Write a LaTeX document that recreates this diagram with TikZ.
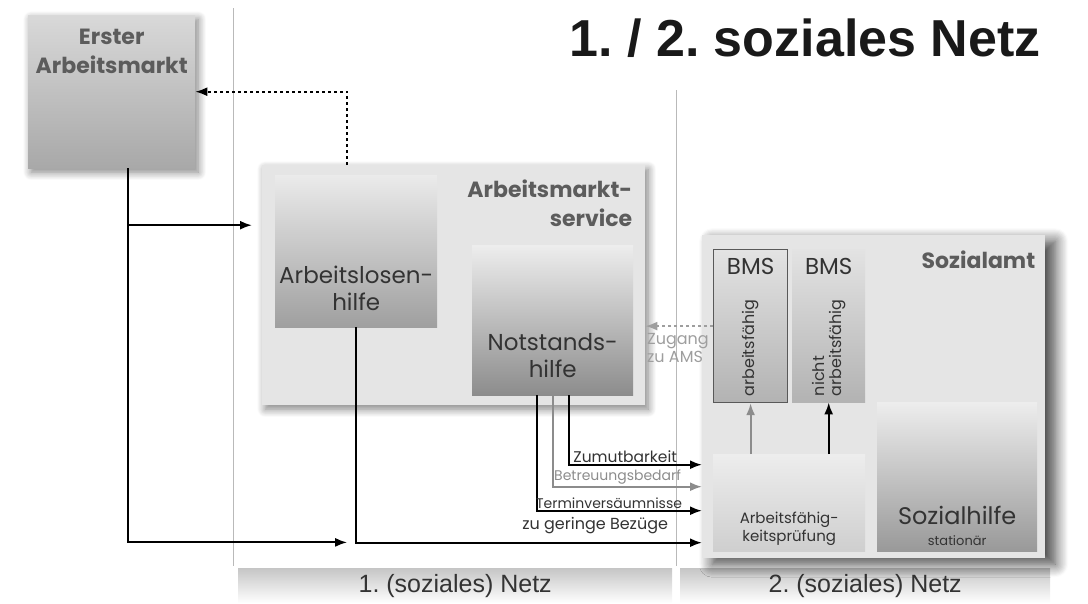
\documentclass[tikz,border=0pt]{standalone}
\usepackage{fontspec}
\setmainfont{Poppins}
\newfontfamily\arialfont{Liberation Sans}
\usepackage{tikz}
\usetikzlibrary{positioning,shadows.blur,arrows.meta}
\frenchspacing
\newcommand{\fsize}[2]{\fontsize{#1}{#2}\selectfont}
\definecolor{panelgray}{gray}{0.90}
\definecolor{inkgray}{gray}{0.36}
\definecolor{linegray}{gray}{0.55}
\definecolor{hintgray}{gray}{0.62}

\begin{document}
\begin{tikzpicture}[x=1pt, y=-1pt,
>={Latex[length=12pt,width=9pt]},
panel/.style={rectangle, inner sep=0pt, anchor=north west, fill=panelgray},
shadowed/.style={blur shadow={shadow xshift=3pt, shadow yshift=-4pt, shadow blur radius=8pt, shadow blur steps=10, shadow opacity=50}},
box/.style={rectangle, inner sep=0pt, anchor=north west, top color=gray!18, bottom color=gray!70},
head/.style={font=\bfseries\fsize{22}{29}, text=inkgray, align=center, inner sep=0pt},
body/.style={font=\fsize{23}{27}, text=black!80, align=center, inner sep=0pt},
small/.style={font=\fsize{16}{17}, text=black!80, align=right, inner sep=1pt},
link/.style={->, line width=2pt},
hint/.style={->, line width=1.6pt, dashed},
bar/.style={rectangle, inner sep=0pt, anchor=north west, top color=gray!45, bottom color=white, font=\arialfont\fsize{25}{28}, text=black!80},
divider/.style={draw=gray!55, line width=0.8pt}
]
\useasboundingbox (0,0) rectangle (1088,603);

%Dividers
\draw[divider] (233,8) -- (233,566);
\draw[divider] (676,90) -- (676,566);

%Bars
\node[bar, minimum width=434pt, minimum height=35pt] (net1) at (238,568) {1. (soziales) Netz};
\node[bar, minimum width=370pt, minimum height=35pt] (net2) at (680,568) {2. (soziales) Netz};

%Title
\node[font=\arialfont\bfseries\fsize{52}{56}, text=black!90] (title) at (805,38) {1. / 2. soziales Netz};

%Erster Arbeitsmarkt
\node[box, shadowed, minimum width=167pt, minimum height=153pt, top color=gray!30, bottom color=gray!68] (erster) at (28,15) {};
\node[head, below=14pt of erster.north] (erstertxt) {Erster\\Arbeitsmarkt};

%Arbeitsmarktservice
\node[panel, shadowed, minimum width=383pt, minimum height=240pt] (ams) at (262,165) {};
\node[head, align=right, below left=15pt and 13pt of ams.north east] (amstxt) {Arbeitsmarkt-\\service};
\node[box, minimum width=162pt, minimum height=152pt, top color=gray!16, bottom color=gray!75] (alh) at (275,175) {};
\node[body, above=16pt of alh.south] (alhtxt) {Arbeitslosen-\\hilfe};
\node[box, minimum width=161pt, minimum height=150pt, top color=gray!14, bottom color=gray!90] (nsh) at (472,245) {};
\node[body, above=17pt of nsh.south] (nshtxt) {Notstands-\\hilfe};

%Sozialamt
\node[panel, blur shadow={shadow xshift=10pt, shadow yshift=-6pt, shadow blur radius=13pt, shadow blur steps=12, shadow opacity=75}, minimum width=343pt, minimum height=323pt] (sozamt) at (702,235) {};
\node[head, below left=16pt and 10pt of sozamt.north east, anchor=north east] (sozamttxt) {Sozialamt};
\node[box, draw=gray!70!black, line width=1.2pt, minimum width=74pt, minimum height=153pt, top color=gray!22, bottom color=gray!60] (bms1) at (713,249) {};
\node[box, minimum width=73pt, minimum height=153pt, top color=gray!22, bottom color=gray!60] (bms2) at (792,249) {};
\node[body, below=9pt of bms1.north] (bms1txt) {BMS};
\node[body, below=9pt of bms2.north] (bms2txt) {BMS};
\node[small, rotate=90, align=left] (bms1sub) at ([yshift=-22pt]bms1.center) {arbeitsfähig};
\node[small, rotate=90, align=left] (bms2sub) at ([yshift=-22pt]bms2.center) {nicht\\arbeitsfähig};
\node[box, minimum width=152pt, minimum height=97pt, top color=gray!14, bottom color=gray!38] (pruef) at (713,454) {};
\node[small, font=\fsize{15}{18}, align=center, above=5pt of pruef.south] (prueftxt) {Arbeitsfähig-\\keitsprüfung};
\node[box, minimum width=160pt, minimum height=149pt, top color=gray!14, bottom color=gray!80] (sozh) at (877,402) {};
\node[body, font=\fsize{24}{26}, above=26pt of sozh.south] (sozhtxt) {Sozialhilfe};
\node[small, font=\fsize{13}{15}, align=center, above=5pt of sozh.south] (sozhsub) {stationär};

%Connections part1
\draw[hint] ([xshift=-9pt]alh.north |- ams.north) |- (erster.east);
\draw[link, shorten >=10pt] ([xshift=16pt]erster.south) |- ([yshift=60pt]ams.west);
\draw[link] ([xshift=16pt]erster.south) |- ([xshift=-9pt, yshift=-215pt]alh.south);

%Connections part2
\draw[link] (alh.south) |- ([yshift=-146pt]sozamt.west)
  node[small, pos=1, anchor=south east, xshift=-32pt, yshift=7pt] (bezuege) {zu geringe Bezüge};
\draw[link] ([xshift=-16pt]nsh.south) |- ([yshift=-114pt]sozamt.west)
  node[small, font=\fsize{14}{15}, pos=1, anchor=south east, xshift=-18pt] (termin) {Terminversäumnisse};
\draw[link, linegray] (nsh.south) |- ([yshift=-90pt]sozamt.west)
  node[small, font=\fsize{14}{15}, text=linegray, pos=1, anchor=south east, xshift=-19pt] (betreuung) {Betreuungsbedarf};
\draw[link] ([xshift=16pt]nsh.south) |- ([yshift=-68pt]sozamt.west)
  node[small, font=\fsize{15.5}{17}, pos=1, anchor=south east, xshift=-23pt] (zumut) {Zumutbarkeit};

%Zugang
\draw[hint, hintgray] (bms1.west) -- (bms1.west -| ams.east)
  node[small, font=\fsize{16}{18}, text=hintgray, align=left, pos=1, anchor=north west, yshift=-5pt] (zugang) {Zugang\\zu AMS};

%Arrows
\draw[link, linegray] (pruef.north -| bms1.south) -- (bms1.south);
\draw[link] (pruef.north -| bms2.south) -- (bms2.south);
\end{tikzpicture}
\end{document}
